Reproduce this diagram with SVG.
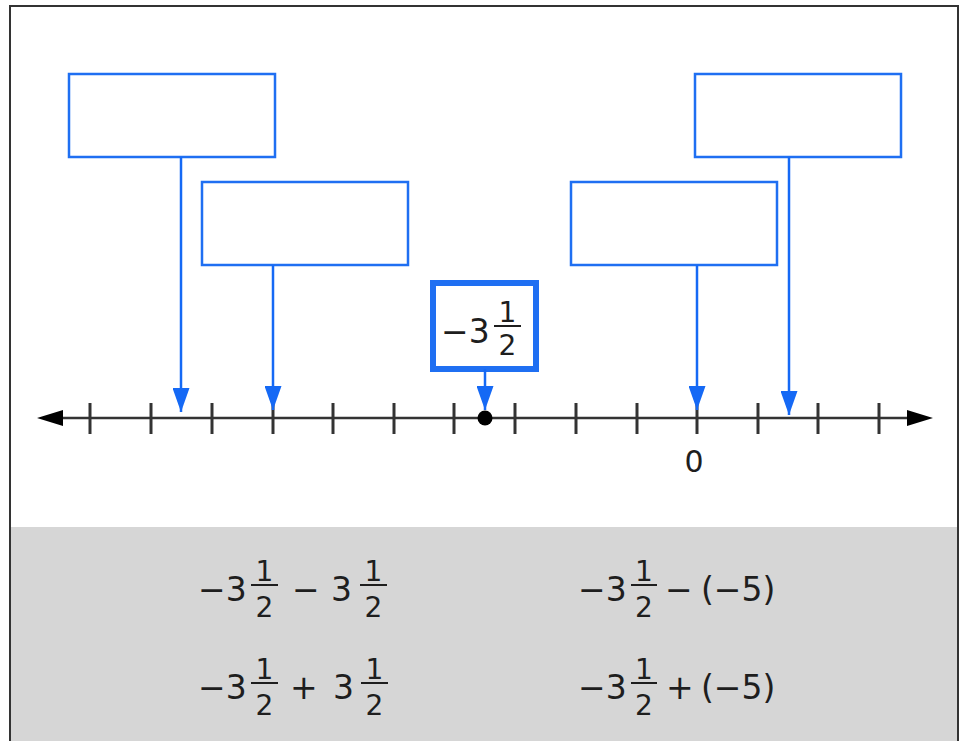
<svg xmlns="http://www.w3.org/2000/svg" width="961" height="741" viewBox="0 0 961 741">
  <defs>
    <style>
      .box { fill: #ffffff; stroke: #1f6ff2; stroke-width: 2.5; }
      .conn { stroke: #1569f5; stroke-width: 2.5; fill: none; marker-end: url(#blueHead); }
      .tick { stroke: #333333; stroke-width: 3; }
      .axis { stroke: #333333; stroke-width: 2.5; }
      .t { font-family: "DejaVu Sans", Verdana, sans-serif; fill: #1e1e1e; }
      .big { font-size: 33px; }
      .frac { font-size: 28px; text-anchor: middle; }
      .bar { stroke: #1e1e1e; stroke-width: 2; }
    </style>
    <marker id="blueHead" viewBox="0 0 24 17" refX="24" refY="8.5" markerWidth="24" markerHeight="17" markerUnits="userSpaceOnUse" orient="auto">
      <path d="M0,0 L24,8.5 L0,17 z" fill="#1569f5"/>
    </marker>
  </defs>

  <rect x="0" y="0" width="961" height="741" fill="#ffffff"/>
  <rect x="11" y="527" width="947" height="214" fill="#d6d6d6"/>
  <path d="M10,741 V6 H958 V741" fill="none" stroke="#333333" stroke-width="2"/>

  <g id="numberline">
    <line class="axis" x1="58" y1="418" x2="912" y2="418"/>
    <polygon points="37,418 63,410 63,426" fill="#000000"/>
    <polygon points="933,418 907,410 907,426" fill="#000000"/>
    <line class="tick" x1="90" y1="403" x2="90" y2="434"/>
    <line class="tick" x1="151" y1="403" x2="151" y2="434"/>
    <line class="tick" x1="212" y1="403" x2="212" y2="434"/>
    <line class="tick" x1="273" y1="403" x2="273" y2="434"/>
    <line class="tick" x1="333" y1="403" x2="333" y2="434"/>
    <line class="tick" x1="394" y1="403" x2="394" y2="434"/>
    <line class="tick" x1="454" y1="403" x2="454" y2="434"/>
    <line class="tick" x1="515" y1="403" x2="515" y2="434"/>
    <line class="tick" x1="576" y1="403" x2="576" y2="434"/>
    <line class="tick" x1="637" y1="403" x2="637" y2="434"/>
    <line class="tick" x1="697" y1="403" x2="697" y2="434"/>
    <line class="tick" x1="758" y1="403" x2="758" y2="434"/>
    <line class="tick" x1="818" y1="403" x2="818" y2="434"/>
    <line class="tick" x1="879" y1="403" x2="879" y2="434"/>
    <circle cx="485" cy="418" r="7.5" fill="#000000"/>
    <text class="t" x="694" y="472" font-size="30" text-anchor="middle">0</text>
  </g>

  <g id="box1"><rect class="box" x="69" y="74" width="206" height="83"/></g>
  <g id="box2"><rect class="box" x="202" y="182" width="206" height="83"/></g>
  <g id="box3"><rect class="box" x="571" y="182" width="206" height="83"/></g>
  <g id="box4"><rect class="box" x="695" y="74" width="206" height="83"/></g>

  <g id="start">
    <rect x="433" y="283" width="103" height="86" fill="#ffffff" stroke="#1f6ff2" stroke-width="6"/>
    <text class="t big" x="441" y="343">−3</text>
    <line class="bar" x1="494" y1="326" x2="521" y2="326"/>
    <text class="t frac" x="507.5" y="322">1</text>
    <text class="t frac" x="507.5" y="355">2</text>
  </g>

  <g id="connectors">
    <line class="conn" x1="181" y1="157" x2="181" y2="412"/>
    <line class="conn" x1="273" y1="265" x2="273" y2="410"/>
    <line class="conn" x1="485" y1="369" x2="485" y2="410"/>
    <line class="conn" x1="697" y1="265" x2="697" y2="410"/>
    <line class="conn" x1="789" y1="157" x2="789" y2="415"/>
  </g>

  <g id="expr1">
    <text class="t big" x="198" y="601">−3</text>
    <line class="bar" x1="251" y1="585" x2="278" y2="585"/>
    <text class="t frac" x="264.5" y="581">1</text>
    <text class="t frac" x="264.5" y="617">2</text>
    <text class="t big" x="292" y="601">−</text>
    <text class="t big" x="331" y="601">3</text>
    <line class="bar" x1="360" y1="585" x2="387" y2="585"/>
    <text class="t frac" x="373.5" y="581">1</text>
    <text class="t frac" x="373.5" y="617">2</text>
  </g>

  <g id="expr2">
    <text class="t big" x="198" y="699">−3</text>
    <line class="bar" x1="251" y1="683" x2="278" y2="683"/>
    <text class="t frac" x="264.5" y="679">1</text>
    <text class="t frac" x="264.5" y="715">2</text>
    <text class="t big" x="290" y="699">+</text>
    <text class="t big" x="333" y="699">3</text>
    <line class="bar" x1="361" y1="683" x2="388" y2="683"/>
    <text class="t frac" x="374.5" y="679">1</text>
    <text class="t frac" x="374.5" y="715">2</text>
  </g>

  <g id="expr3">
    <text class="t big" x="578" y="601">−3</text>
    <line class="bar" x1="631" y1="585" x2="657" y2="585"/>
    <text class="t frac" x="644" y="581">1</text>
    <text class="t frac" x="644" y="617">2</text>
    <text class="t big" x="665" y="601">−</text>
    <text class="t big" x="701" y="601">(−5)</text>
  </g>

  <g id="expr4">
    <text class="t big" x="578" y="699">−3</text>
    <line class="bar" x1="631" y1="683" x2="657" y2="683"/>
    <text class="t frac" x="644" y="679">1</text>
    <text class="t frac" x="644" y="715">2</text>
    <text class="t big" x="666" y="699">+</text>
    <text class="t big" x="701" y="699">(−5)</text>
  </g>
</svg>
